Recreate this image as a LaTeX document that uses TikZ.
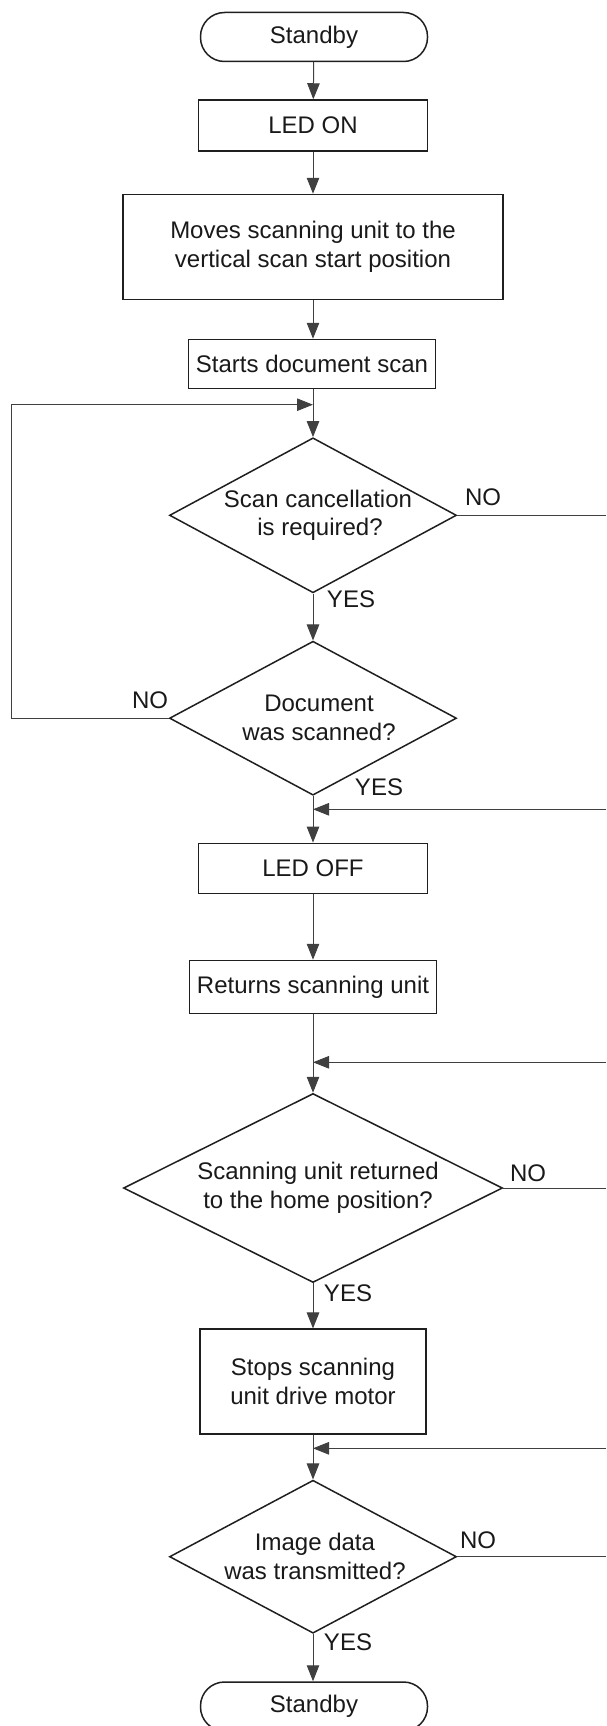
\documentclass[tikz,border=0pt]{standalone}
\usepackage{fontspec}
\setmainfont{Liberation Sans}
\usetikzlibrary{arrows.meta,shapes.geometric}
\begin{document}
\begin{tikzpicture}[x=1pt,y=-1pt,
  every node/.style={font=\fontsize{24}{28.8}\selectfont, text=black!90},
  procbox/.style={draw=black!88, line width=1.5pt, rectangle, inner sep=0pt, align=center},
  termbox/.style={draw=black!88, line width=1.5pt, rectangle, rounded corners=24pt, inner sep=0pt, minimum width=227pt, minimum height=49pt},
  decbox/.style={draw=black!88, line width=1.5pt, diamond, inner sep=-12pt, align=center},
  conn/.style={draw=black!75, line width=1pt},
  arr/.style={conn, -{Triangle[length=16pt,width=12.5pt]}},
  lbl/.style={inner sep=0pt}
]
\useasboundingbox (0,0) rectangle (606,1726);

% nodes
\node[termbox] (sb1) at (314,37) {Standby};
\node[procbox, minimum width=229pt, minimum height=51pt] (led) at (313,125.5) {LED ON};
\node[procbox, minimum width=380pt, minimum height=105pt] (move) at (313,247) {Moves scanning unit to the\\vertical scan start position};
\node[procbox, minimum width=247pt, minimum height=49pt] (start) at (312,364) {Starts document scan};
\node[decbox, aspect=1.86, minimum width=287pt, minimum height=155pt] (d1) at (313,515.3) {\hspace*{10pt}Scan cancellation\\\hspace*{14pt}is required?};
\node[decbox, aspect=1.86, minimum width=287pt, minimum height=154pt] (d2) at (313,718.2) {\hspace*{12pt}Document\\\hspace*{12pt}was scanned?};
\node[procbox, minimum width=229pt, minimum height=50pt] (ledoff) at (313,868.3) {LED OFF};
\node[procbox, minimum width=247pt, minimum height=53pt] (ret) at (313,987) {Returns scanning unit};
\node[decbox, aspect=2, minimum width=379pt, minimum height=189pt] (d3) at (313,1188) {\hspace*{10pt}Scanning unit returned\\\hspace*{10pt}to the home position?};
\node[procbox, minimum width=226pt, minimum height=105pt] (stop) at (313,1381.7) {Stops scanning\\unit drive motor};
\node[decbox, aspect=1.87, minimum width=287pt, minimum height=153pt] (d4) at (313,1556.7) {\hspace*{4pt}Image data\\\hspace*{4pt}was transmitted?};
\node[termbox] (sb2) at (314,1706.5) {Standby};

% junction and edge coordinates
\coordinate (j1) at (313,404.7);
\coordinate (lc) at (11,718.2);
\coordinate (j2) at (313,809.3);
\coordinate (j3) at (313,1062.3);
\coordinate (j4) at (313,1448.3);
\coordinate (e1) at (606,515.3);
\coordinate (e2) at (606,809.3);
\coordinate (e3) at (606,1062.3);
\coordinate (e4) at (606,1188);
\coordinate (e5) at (606,1448.3);
\coordinate (e6) at (606,1556.7);

% connectors
\draw[arr] (sb1) -- (led);
\draw[arr] (led) -- (move);
\draw[arr] (move.south) -- (move.south |- start.north);
\draw[arr] (start.south -| d1.north) -- (d1.north);
\draw[arr] (d2.west) -- (lc) |- (j1);
\draw[arr] (d1) -- (d2);
\draw[conn] (d1.east) -- (e1);
\draw[arr] (d2) -- (ledoff);
\draw[arr] (e2) -- (j2);
\draw[arr] (ledoff) -- (ret);
\draw[arr] (ret) -- (d3);
\draw[arr] (e3) -- (j3);
\draw[conn] (d3.east) -- (e4);
\draw[arr] (d3) -- (stop);
\draw[arr] (stop) -- (d4);
\draw[arr] (e5) -- (j4);
\draw[conn] (d4.east) -- (e6);
\draw[arr] (d4.south) -- (d4.south |- sb2.north);

% labels
\node[lbl] (no1) at (483,497) {NO};
\node[lbl] (yes1) at (351,599.5) {YES};
\node[lbl] (no2) at (150,700) {NO};
\node[lbl] (yes2) at (379,787) {YES};
\node[lbl] (no3) at (528,1173) {NO};
\node[lbl] (yes3) at (348,1293) {YES};
\node[lbl] (no4) at (478,1540) {NO};
\node[lbl] (yes4) at (348,1642) {YES};
\end{tikzpicture}
\end{document}
